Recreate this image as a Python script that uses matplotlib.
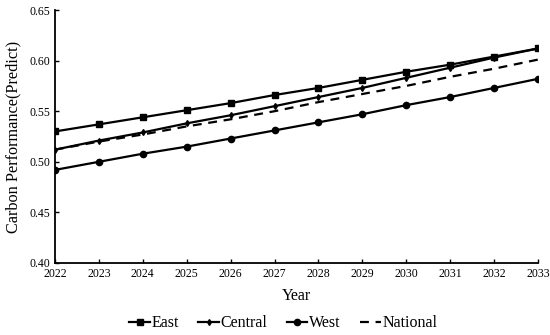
import matplotlib.pyplot as plt

plt.rcParams['font.family'] = ['Liberation Serif', 'DejaVu Serif']

years = list(range(2022, 2034))
east = [0.530, 0.537, 0.544, 0.551, 0.558, 0.566, 0.573, 0.581, 0.589, 0.596, 0.604, 0.612]
central = [0.512, 0.521, 0.529, 0.538, 0.546, 0.555, 0.564, 0.573, 0.583, 0.593, 0.603, 0.612]
west = [0.492, 0.500, 0.508, 0.515, 0.523, 0.531, 0.539, 0.547, 0.556, 0.564, 0.573, 0.582]
national = [0.512, 0.520, 0.527, 0.535, 0.542, 0.550, 0.559, 0.567, 0.575, 0.584, 0.592, 0.601]

fig = plt.figure(figsize=(5.5, 3.35), dpi=100)
ax = fig.add_axes([0.1, 0.215, 0.878, 0.755])

ax.plot(years, east, color='black', lw=1.6, marker='s', ms=4.5, label='East')
ax.plot(years, central, color='black', lw=1.6, marker='d', ms=3, label='Central')
ax.plot(years, west, color='black', lw=1.6, marker='o', ms=4.5, label='West')
ax.plot(years, national, color='black', lw=1.6, ls=(0, (4, 3)), label='National')

ax.set_xlim(2022, 2033)
ax.set_ylim(0.40, 0.65)
ax.set_xticks(years)
ax.set_yticks([0.40, 0.45, 0.50, 0.55, 0.60, 0.65])
ax.yaxis.set_major_formatter(plt.FormatStrFormatter('%.2f'))
for s in ['top', 'right']:
    ax.spines[s].set_visible(False)
for s in ['left', 'bottom']:
    ax.spines[s].set_linewidth(1.3)
ax.tick_params(direction='in', length=3, width=1, labelsize=8.5, colors='black')

ax.set_xlabel('Year', fontsize=11.5, labelpad=6)
ax.set_ylabel('Carbon Performance(Predict)', fontsize=11.7, labelpad=6)

fig.legend(loc='center', bbox_to_anchor=(0.515, 0.035), ncol=4, frameon=False,
           fontsize=11.5, handlelength=1.3, handletextpad=0.1, columnspacing=1.2)

fig.savefig('out.png', dpi=100)
